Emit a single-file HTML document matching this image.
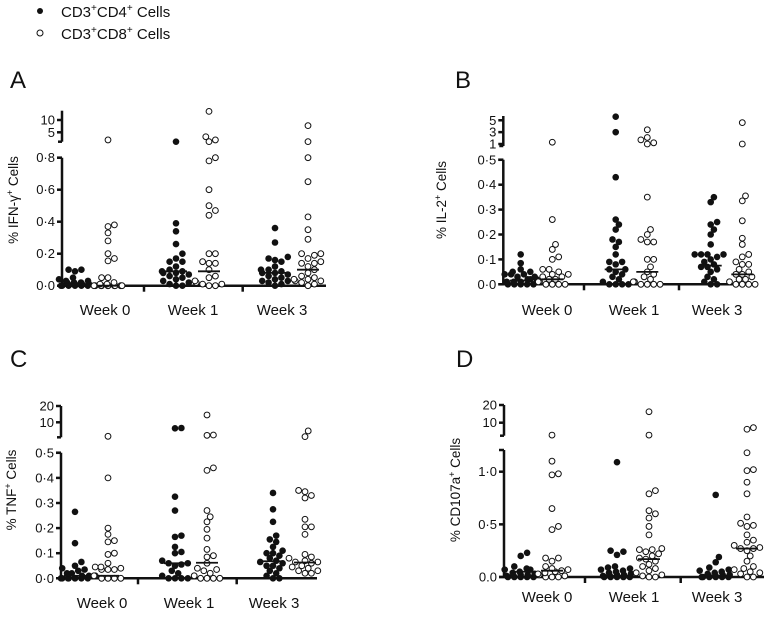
<!DOCTYPE html>
<html><head><meta charset="utf-8"><style>
body{margin:0;background:#fff;}
svg text{font-family:"Liberation Sans",sans-serif;fill:#111;}
</style></head><body>
<svg id="chart" width="767" height="612" viewBox="0 0 767 612" xmlns="http://www.w3.org/2000/svg">
<g>
<circle cx="40" cy="11" r="3" fill="#111"/>
<text x="61" y="17" font-size="15">CD3<tspan font-size="10" dy="-6">+</tspan><tspan dy="6">CD4</tspan><tspan font-size="10" dy="-6">+</tspan><tspan dy="6"> Cells</tspan></text>
<circle cx="40" cy="33" r="3" fill="#fff" stroke="#111" stroke-width="1"/>
<text x="61" y="39" font-size="15">CD3<tspan font-size="10" dy="-6">+</tspan><tspan dy="6">CD8</tspan><tspan font-size="10" dy="-6">+</tspan><tspan dy="6"> Cells</tspan></text>
</g>
</svg>
<script>
// ---- data ----
const categories = ["Week 0", "Week 1", "Week 3"];
const seriesNames = ["CD4", "CD8"];
// Panel A: IFN-gamma
const ifnCD4 = [
 [0.1,0.1,0.09,0.05,0.04,0.03,0.03,0.02,0.02,0.02,0.01,0.01,0.01,0.01,0,0,0,0,0,0],
 [1.2,0.39,0.34,0.26,0.2,0.17,0.15,0.15,0.12,0.1,0.09,0.09,0.08,0.08,0.07,0.06,0.05,0.04,0.03,0.02,0.01,0,0],
 [0.36,0.27,0.18,0.17,0.16,0.15,0.12,0.1,0.1,0.09,0.08,0.08,0.07,0.06,0.05,0.04,0.03,0.03,0.02,0.01,0]];
const ifnCD8 = [
 [1.9,0.38,0.37,0.33,0.28,0.2,0.17,0.155,0.05,0.05,0.02,0.01,0.01,0,0,0,0,0,0,0,0,0,0],
 [13.5,3.2,1.9,1.2,0.8,0.78,0.6,0.5,0.47,0.44,0.2,0.2,0.15,0.14,0.14,0.1,0.06,0.05,0.03,0.02,0.01,0.01,0,0],
 [7.7,1.2,0.8,0.65,0.43,0.35,0.29,0.2,0.2,0.19,0.17,0.15,0.14,0.14,0.12,0.1,0.08,0.06,0.05,0.04,0.04,0.03,0.03,0.02,0.01,0]];
const ifnMedCD4 = [0.01, 0.09, 0.08];
const ifnMedCD8 = [0.0, 0.09, 0.1];
// Panel B: IL-2
const il2CD4 = [
 [0.12,0.085,0.06,0.05,0.05,0.04,0.04,0.04,0.03,0.03,0.02,0.02,0.02,0.01,0.01,0.01,0,0,0,0,0],
 [5.6,3,0.43,0.26,0.24,0.22,0.18,0.17,0.15,0.12,0.09,0.09,0.08,0.06,0.06,0.05,0.04,0.03,0.02,0.01,0,0,0,0],
 [0.35,0.33,0.25,0.24,0.22,0.2,0.16,0.12,0.12,0.12,0.12,0.11,0.1,0.09,0.08,0.07,0.07,0.06,0.05,0.03,0.02,0.01,0,0]];
const il2CD8 = [
 [1.3,0.26,0.16,0.14,0.11,0.1,0.06,0.06,0.05,0.04,0.04,0.03,0.03,0.02,0.02,0.01,0.01,0,0,0,0],
 [3.4,2.1,1.7,1.2,1.0,0.35,0.22,0.2,0.18,0.17,0.17,0.1,0.1,0.07,0.05,0.04,0.03,0.02,0.01,0.01,0,0,0,0],
 [4.6,1.0,0.355,0.335,0.255,0.185,0.16,0.12,0.11,0.09,0.08,0.08,0.06,0.05,0.04,0.04,0.03,0.02,0.02,0.01,0,0,0,0]];
const il2MedCD4 = [0.015, 0.06, 0.075];
const il2MedCD8 = [0.02, 0.05, 0.04];
// Panel C: TNF
const tnfCD4 = [
 [0.265,0.14,0.065,0.05,0.04,0.035,0.03,0.02,0.02,0.01,0.01,0,0,0,0,0,0,0,0],
 [6.3,6.5,0.325,0.27,0.17,0.165,0.125,0.105,0.1,0.07,0.06,0.06,0.055,0.05,0.03,0.02,0.01,0,0,0,0],
 [0.34,0.275,0.225,0.17,0.155,0.145,0.125,0.11,0.1,0.1,0.09,0.08,0.07,0.065,0.06,0.05,0.05,0.04,0.03,0.02,0.01,0,0]];
const tnfCD8 = [
 [1.4,0.4,0.2,0.175,0.15,0.145,0.1,0.095,0.06,0.045,0.045,0.04,0.035,0.035,0.035,0.01,0.01,0,0,0,0],
 [14.5,2.2,2.0,0.44,0.43,0.27,0.245,0.225,0.195,0.16,0.115,0.09,0.085,0.06,0.04,0.035,0.03,0.02,0.01,0,0,0,0],
 [4.7,1.2,0.35,0.345,0.33,0.32,0.235,0.205,0.205,0.175,0.095,0.085,0.08,0.07,0.065,0.065,0.06,0.05,0.045,0.04,0.03,0.03,0.02,0.02]];
const tnfMedCD4 = [0.01, 0.06, 0.068];
const tnfMedCD8 = [0.01, 0.062, 0.063];
// Panel D: CD107a
const cdCD4 = [
 [0.23,0.2,0.1,0.08,0.07,0.07,0.05,0.04,0.03,0.02,0.02,0.01,0.01,0,0,0,0,0],
 [1.09,0.25,0.24,0.21,0.1,0.09,0.08,0.07,0.06,0.05,0.04,0.03,0.02,0.02,0.01,0.01,0,0,0,0,0],
 [0.78,0.19,0.14,0.09,0.07,0.06,0.05,0.04,0.03,0.02,0.02,0.01,0.01,0,0,0,0,0,0]];
const cdCD8 = [
 [3,1.1,0.98,0.97,0.65,0.48,0.45,0.18,0.18,0.15,0.1,0.08,0.07,0.06,0.05,0.04,0.03,0.02,0.01,0,0,0],
 [16.2,3,0.82,0.79,0.63,0.6,0.56,0.48,0.4,0.27,0.26,0.26,0.24,0.22,0.2,0.18,0.17,0.15,0.12,0.1,0.08,0.06,0.04,0.02,0.01,0,0],
 [6.3,7.2,1.18,1.02,1.01,0.9,0.79,0.57,0.51,0.49,0.48,0.4,0.35,0.33,0.3,0.28,0.27,0.27,0.25,0.2,0.15,0.1,0.08,0.07,0.05,0.04,0.03,0,0]];
const cdMedCD4 = [0.05, 0.01, 0.01];
const cdMedCD8 = [0.06, 0.17, 0.27];
// tick labels
const ticksA = ["0·0","0·2","0·4","0·6","0·8"], ticksAUp = ["5","10"];
const ticksB = ["0·0","0·1","0·2","0·3","0·4","0·5"], ticksBUp = ["1","3","5"];
const ticksC = ["0·0","0·1","0·2","0·3","0·4","0·5"], ticksCUp = ["10","20"];
const ticksD = ["0.0","0·5","1·0"], ticksDUp = ["10","20"];

// ---- layout (not data) ----
const panels = [
 {id:"a",letter:"A",lx:10,ly:88,title:"% IFN-\u03B3",ax:62,y0:285.7,ppu:160,lowMax:0.8,lowTop:157.7,ticks:ticksA,upTicks:ticksAUp,upRef:10,upRefY:120,upPpu:2.46,upTop:110.7,upBot:141.7,xEnd:326,seps:[144,242.7],cx:[[75,108],[176,209],[275,308]],lab:[105,193,282],labY:315,titleX:14,titleY:200,cd4:ifnCD4,cd8:ifnCD8,m4:ifnMedCD4,m8:ifnMedCD8},
 {id:"b",letter:"B",lx:455,ly:88,title:"% IL-2",ax:503.3,y0:284.3,ppu:249,lowMax:0.5,lowTop:159.7,ticks:ticksB,upTicks:ticksBUp,upRef:1,upRefY:144,upPpu:5.93,upTop:116,upBot:146,xEnd:757,seps:[584,679],cx:[[520.7,552.3],[615.7,647.3],[710.7,742.3]],lab:[547,634,717],labY:315,titleX:442,titleY:200,cd4:il2CD4,cd8:il2CD8,m4:il2MedCD4,m8:il2MedCD8},
 {id:"c",letter:"C",lx:10,ly:367,title:"% TNF",ax:61,y0:578.3,ppu:251,lowMax:0.5,lowTop:452.7,ticks:ticksC,upTicks:ticksCUp,upRef:10,upRefY:422.3,upPpu:1.63,upTop:406,upBot:437.3,xEnd:317,seps:[138,236.7],cx:[[75,108],[175,207],[273,305]],lab:[102,189,274],labY:608,titleX:12,titleY:490,cd4:tnfCD4,cd8:tnfCD8,m4:tnfMedCD4,m8:tnfMedCD8},
 {id:"d",letter:"D",lx:456,ly:367,title:"% CD107a",ax:504,y0:577,ppu:105.3,lowMax:1.2,lowTop:450,ticks:ticksD,upTicks:ticksDUp,upRef:10,upRefY:422.7,upPpu:1.77,upTop:405,upBot:435.7,xEnd:764,seps:[585,680.7],cx:[[520.7,552],[617,649],[715.7,747]],lab:[547,634,717],labY:602,titleX:456,titleY:490,cd4:cdCD4,cd8:cdCD8,m4:cdMedCD4,m8:cdMedCD8}
];
const tickVals = {a:[0,0.2,0.4,0.6,0.8],b:[0,0.1,0.2,0.3,0.4,0.5],c:[0,0.1,0.2,0.3,0.4,0.5],d:[0,0.5,1.0]};
const upVals = {a:[5,10],b:[1,3,5],c:[10,20],d:[10,20]};

const NS="http://www.w3.org/2000/svg";
const svg=document.getElementById("chart");
function mk(tag,attrs,parent){const e=document.createElementNS(NS,tag);for(const k in attrs)e.setAttribute(k,attrs[k]);(parent||svg).appendChild(e);return e;}

function yScale(p,v){
 if(v<=p.lowMax+0.05) return p.y0 - v*p.ppu;
 let y=p.upRefY-(v-p.upRef)*p.upPpu;
 return Math.max(p.upTop,Math.min(p.upBot,y));
}

function swarm(vals,p,cx,r){
 const placed=[];
 const sorted=vals.slice().sort((a,b)=>a-b);
 const out=[];
 let overflow=0;
 for(const v of sorted){
  const y=yScale(p,v);
  let x=null;
  for(let k=0;k<=10;k++){
   const off=(k===0?0:(k%2?1:-1)*Math.ceil(k/2)*3.2);
   const tx=cx+off;
   if(placed.every(q=>Math.hypot(q[0]-tx,q[1]-y)>=2*r-0.8)){x=tx;break;}
  }
  if(x===null){x=cx+((overflow*7)%29-14);overflow++;}
  placed.push([x,y]);out.push([x,y]);
 }
 return out;
}

panels.forEach(p=>{
 const g=mk("g",{});
 
 
 const L=mk("text",{x:p.lx,y:p.ly,"font-size":24},g);L.textContent=p.letter;
 
 
 const t=mk("text",{x:p.titleX,y:p.titleY,"font-size":13.5,"text-anchor":"middle",transform:`rotate(-90 ${p.titleX} ${p.titleY})`,dy:"4"},g);
 t.textContent=p.title;
 const sup=mk("tspan",{"font-size":9,dy:"-5"},t);sup.textContent="+";
 const rest=mk("tspan",{dy:"5"},t);rest.textContent=" Cells";
 
 
 const ax=mk("g",{stroke:"#111","stroke-width":2.5,fill:"none"},g);
 
 
 mk("line",{x1:p.ax,y1:p.y0,x2:p.ax,y2:p.lowTop},ax);
 mk("line",{x1:p.ax,y1:p.upBot,x2:p.ax,y2:p.upTop},ax);
 mk("line",{x1:p.ax-4,y1:p.upBot,x2:p.ax,y2:p.upBot},ax);
 mk("line",{x1:p.ax-5,y1:p.y0,x2:p.xEnd,y2:p.y0},ax);
 p.seps.forEach(s=>mk("line",{x1:s,y1:p.y0,x2:s,y2:p.y0+6},ax));
 mk("line",{x1:p.ax-5,y1:p.lowTop,x2:p.ax,y2:p.lowTop},ax);
 tickVals[p.id].forEach((v,i)=>{
  const y=yScale(p,v);
  mk("line",{x1:p.ax-5,y1:y,x2:p.ax,y2:y},ax);
  const tl=mk("text",{x:p.ax-7,y:y+4.5,"font-size":13,"text-anchor":"end"},g);
  tl.textContent=p.ticks[i];
  
  
 });
 upVals[p.id].forEach((v,i)=>{
  const y=p.upRefY-(v-p.upRef)*p.upPpu;
  mk("line",{x1:p.ax-5,y1:y,x2:p.ax,y2:y},ax);
  const tl=mk("text",{x:p.ax-7,y:y+4.5,"font-size":13,"text-anchor":"end"},g);
  tl.textContent=p.upTicks[i];
  
  
 });
 categories.forEach((c,i)=>{
  const xl=mk("text",{x:p.lab[i],y:p.labY,"font-size":15,"text-anchor":"middle"},g);
  xl.textContent=c;
  
  
  [[p.cd4,p.m4,0,"#111"],[p.cd8,p.m8,1,"#fff"]].forEach(([arr,med,si,fill])=>{
   const sg=mk("g",{},g);
   
   
   const cx=p.cx[i][si];
   swarm(arr[i],p,cx,3.3).forEach(([x,y])=>{
    const d=mk("circle",{cx:x,cy:y,r:si?2.9:3.3,fill:fill,stroke:"#111","stroke-width":si?1:0},sg);
    
    
   });
   const my=yScale(p,med[i]);
   const ml=mk("line",{x1:cx-11,y1:my,x2:cx+11,y2:my,stroke:"#111","stroke-width":1.8},sg);
   
   
  });
 });
});
</script>
</body></html>
